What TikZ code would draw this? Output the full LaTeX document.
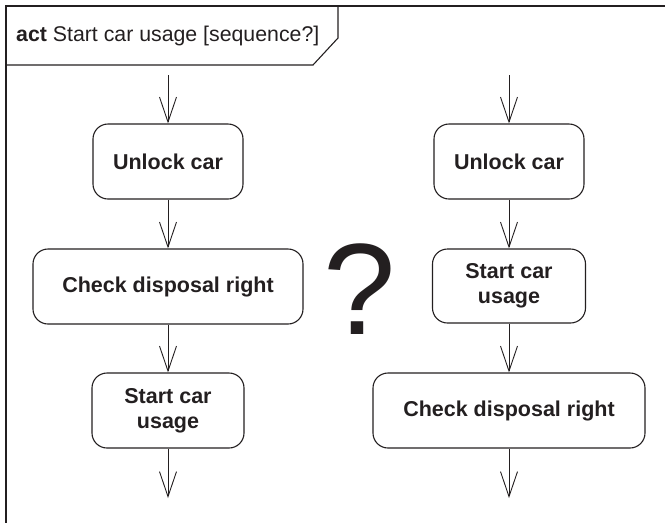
\documentclass[tikz,border=0pt]{standalone}
\usepackage{fontspec}
\setmainfont{Liberation Sans}
\usetikzlibrary{arrows.meta}
\definecolor{ink}{HTML}{231F20}
\begin{document}
\begin{tikzpicture}[x=1pt,y=-1pt,
  actbox/.style={draw=ink,line width=1.1pt,rounded corners=15pt,minimum height=75pt,
     inner sep=0pt,align=center,text=ink,font=\fontsize{21.5}{25}\selectfont\bfseries},
  flow/.style={draw=ink,line width=0.9pt,-{Straight Barb[length=25pt,width=17pt,line width=0.9pt]}}]
\useasboundingbox (0,0) rectangle (665,523);
% frame
\draw[ink,line width=1.3pt] (665,6) -- (6,6) -- (6,523);
\draw[ink,line width=1.1pt] (338,6) -- (338,38) -- (313,65) -- (6,65);
\node[anchor=base west,inner sep=0pt,text=ink,font=\fontsize{21.3}{25}\selectfont] (title) at (16,41) {\textbf{act} Start car usage [sequence?]};
% left column
\coordinate (lt) at (168,75);
\node[actbox,minimum width=150pt] (l1) at (168,161.5) {Unlock car};
\node[actbox,minimum width=270pt] (l2) at (168,286.5) {Check disposal right};
\node[actbox,minimum width=152pt] (l3) at (168,410.5) {Start car\\usage};
\coordinate (lb) at (168,498);
\draw[flow] (lt) -- (l1);
\draw[flow] (l1) -- (l2);
\draw[flow] (l2) -- (l3);
\draw[flow] (l3) -- (lb);
% right column
\coordinate (rt) at (509,75);
\node[actbox,minimum width=150pt] (r1) at (509,161.5) {Unlock car};
\node[actbox,minimum width=153pt,minimum height=74pt] (r2) at (509,286) {Start car\\usage};
\node[actbox,minimum width=272pt] (r3) at (509,410.5) {Check disposal right};
\coordinate (rb) at (509,498);
\draw[flow] (rt) -- (r1);
\draw[flow] (r1) -- (r2);
\draw[flow] (r2) -- (r3);
\draw[flow] (r3) -- (rb);
% question mark
\node[text=ink,inner sep=0pt,font=\fontsize{130}{134}\selectfont] (q) at (360,289) {?};
\end{tikzpicture}
\end{document}
